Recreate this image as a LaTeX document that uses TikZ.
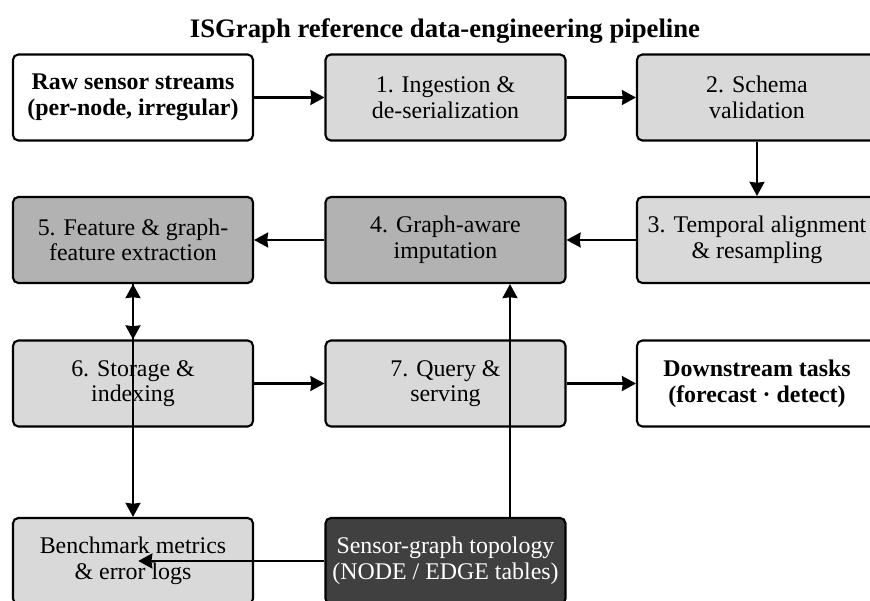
\documentclass[tikz,border=0pt]{standalone}
\usepackage{fontspec}
\setmainfont{Liberation Serif}
\usetikzlibrary{arrows.meta}

\definecolor{lightbox}{gray}{0.85}
\definecolor{midbox}{gray}{0.70}
\definecolor{darkbox}{gray}{0.25}

\begin{document}
\begin{tikzpicture}[x=0.02cm,y=-0.02cm]
        \useasboundingbox (0,0) rectangle (870,601);
        \clip (0,0) rectangle (870,601);

        \node[font=\bfseries\fontsize{15.2}{17}\selectfont] (Title) at (445,31) {ISGraph reference data-engineering pipeline};

        \begin{scope}[every node/.style={rectangle,rounded corners=3pt,line width=1.2pt,draw,
                align=center,minimum width=4.8cm,minimum height=1.72cm,fill=lightbox,
                font=\fontsize{13.6}{14.6}\selectfont}]
            \node[fill=white,font=\bfseries\fontsize{13.6}{14.6}\selectfont] (Raw) at (133,97.5) {Raw sensor streams\\(per-node, irregular)};
            \node (Ingest) at (445.5,97.5) {1. Ingestion \&\\de-serialization};
            \node (Schema) at (757,97.5) {2. Schema\\validation};
            \node (Align) at (757,240) {3. Temporal alignment\\\& resampling};
            \node[fill=midbox] (Impute) at (445.5,240) {4. Graph-aware\\imputation};
            \node[fill=midbox] (Feature) at (133,240) {5. Feature \& graph-\\feature extraction};
            \node (Store) at (133,383.5) {6. Storage \&\\indexing};
            \node (Query) at (445.5,383.5) {7. Query \&\\serving};
            \node[fill=white,font=\bfseries\fontsize{13.6}{14.6}\selectfont] (Tasks) at (757,383.5) {Downstream tasks\\(forecast · detect)};
            \node (Bench) at (133,561) {Benchmark metrics\\\& error logs};
            \node[fill=darkbox,text=white] (Topo) at (445.5,561) {Sensor-graph topology\\(NODE / EDGE tables)};
        \end{scope}

        \coordinate (tap) at (510,400);

        \begin{scope}[>={Stealth[black,length=8pt,width=8.5pt,inset=0.5pt]},
            every edge/.style={line width=1.3pt, draw}]
            \path [->] (Raw) edge (Ingest);
            \path [->] (Ingest) edge (Schema);
            \path [->] (Schema) edge (Align);
            \path [->] (Align) edge (Impute);
            \path [->] (Impute) edge (Feature);
            \path [<->] (Feature) edge (Store);
            \path [->] (Feature) edge (Bench);
            \path [->] (Store) edge (Query);
            \path [->] (Query) edge (Tasks);
            \path [->] (Topo.north -| tap) edge (Impute.south -| tap);
            \path [->] (Topo) edge[shorten >=3pt] (Bench.center);
        \end{scope}
    \end{tikzpicture}
\end{document}
